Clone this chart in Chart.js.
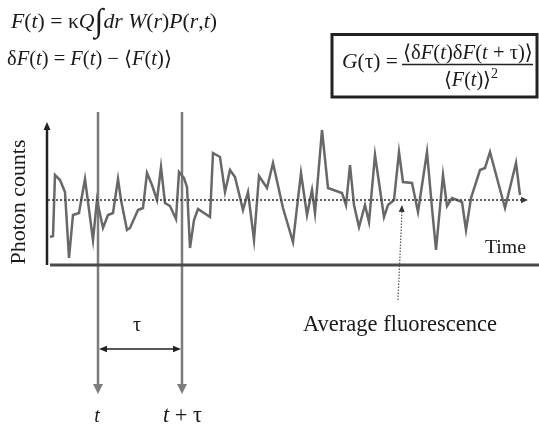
<!DOCTYPE html>
<html>
<head>
<meta charset="utf-8">
<script src="https://cdn.jsdelivr.net/npm/chart.js@4.4.1/dist/chart.umd.min.js"></script>
<style>
  html, body { margin: 0; padding: 0; background: #ffffff; }
  canvas { display: block; }
</style>
</head>
<body>
<canvas id="c" width="539" height="426"></canvas>
<script>
// ---- data (time in arbitrary units, counts in arbitrary units) ----
const timeUnits = [3,6,8,13,18,22,26,32,38,46,50,56,61,66,71,74,80,83,91,96,100,105,110,114,118,123,129,132,137,140,143,147,151,163,166,173,178,183,188,196,201,207,212,220,226,236,246,254,260,265,268,275,281,295,299,303,307,312,318,322,328,337,341,347,352,356,365,371,380,385,389,396,400,405,415,419,424,433,438,443,458,469,473];
const photonCounts = [28,29,90,85,73,7,50,52,86,25,65,37,50,52,86,65,35,37,55,57,92,80,65,98,62,59,46,93,87,78,17,45,56,48,112,108,73,95,88,55,73,25,89,77,102,57,23,92,50,75,52,135,77,72,60,100,60,38,60,43,110,48,60,65,113,83,82,53,113,57,15,90,59,67,63,35,67,95,97,113,57,102,70];
const meanCount = 65;            // average fluorescence level
const meanSpan = [1, 476, 481];  // start, line end, arrow tip
const tMark = 51;                // time t
const tauLag = 84;               // lag tau
const markerSpan = [153, -125, -129]; // top, line end, arrow tip (counts units)
const yAxisSpan = [0, 136, 143];      // bottom, line end, arrow tip
const xAxisSpan = [3, 492];
const tauArrowLevel = -84;
const annotFrom = [351, -35];
const annotTip = [355, 60];
const labels = { yTitle: 'Photon counts', xTitle: 'Time', avg: 'Average fluorescence', t: 't', tt: 't + τ', tau: 'τ' };

const seg = (x1, y1, x2, y2) => [{x: x1, y: y1}, {x: x2, y: y2}];
const trace = timeUnits.map((t, i) => ({x: t, y: photonCounts[i]}));

const base = { showLine: true, pointRadius: 0, pointHoverRadius: 0, tension: 0, clip: false, borderCapStyle: 'butt', fill: false };

const datasets = [
  Object.assign({}, base, { data: seg(xAxisSpan[0], 0, xAxisSpan[1], 0), borderColor: '#4a4a4a', borderWidth: 3 }),
  Object.assign({}, base, { data: seg(0, yAxisSpan[0], 0, yAxisSpan[1]), borderColor: '#222', borderWidth: 2.5 }),
  Object.assign({}, base, { data: seg(meanSpan[0], meanCount, meanSpan[1], meanCount), borderColor: '#3a3a3a', borderWidth: 1.6, borderDash: [2, 2] }),
  Object.assign({}, base, { data: trace, borderColor: '#686868', borderWidth: 2.5, borderJoinStyle: 'miter' }),
  Object.assign({}, base, { data: seg(tMark, markerSpan[0], tMark, markerSpan[1]), borderColor: '#7c7c7c', borderWidth: 2.5 }),
  Object.assign({}, base, { data: seg(tMark + tauLag, markerSpan[0], tMark + tauLag, markerSpan[1]), borderColor: '#7c7c7c', borderWidth: 2.5 }),
  Object.assign({}, base, { data: seg(tMark + 5, tauArrowLevel, tMark + tauLag - 5, tauArrowLevel), borderColor: '#222', borderWidth: 1.3 }),
  Object.assign({}, base, { data: seg(annotFrom[0], annotFrom[1], annotTip[0], annotTip[1] - 6), borderColor: '#555', borderWidth: 1.2, borderDash: [1.5, 1.5] })
];

const FAM = '"Liberation Serif", "DejaVu Serif", serif';
function fontFor(r, size) { return (r[1] ? 'italic ' : '') + (size * (r[2] || 1)).toFixed(2) + 'px ' + FAM; }
function runsWidth(ctx, runs, size) { let w = 0; runs.forEach(r => { ctx.font = fontFor(r, size); w += ctx.measureText(r[0]).width; }); return w; }
function drawRuns(ctx, runs, x, baseY, size, width) {
  if (width) size = size * width / runsWidth(ctx, runs, size);
  let cx = x;
  ctx.textAlign = 'left'; ctx.textBaseline = 'alphabetic';
  runs.forEach(r => { ctx.font = fontFor(r, size); ctx.fillText(r[0], cx, baseY + (r[3] || 0) * size); cx += ctx.measureText(r[0]).width; });
}
function fitText(ctx, txt, italic, width, size) {
  ctx.font = (italic ? 'italic ' : '') + size + 'px ' + FAM;
  const s = size * width / ctx.measureText(txt).width;
  ctx.font = (italic ? 'italic ' : '') + s.toFixed(2) + 'px ' + FAM;
}
function arrowHead(ctx, fx, fy, tx, ty, len, half, color) {
  const dx = tx - fx, dy = ty - fy, d = Math.hypot(dx, dy) || 1;
  const ux = dx / d, uy = dy / d, bx = tx - ux * len, by = ty - uy * len;
  ctx.beginPath(); ctx.moveTo(tx, ty);
  ctx.lineTo(bx - uy * half, by + ux * half); ctx.lineTo(bx + uy * half, by - ux * half);
  ctx.closePath(); ctx.fillStyle = color; ctx.fill();
}

const overlay = {
  id: 'overlay',
  afterDatasetsDraw(chart) {
    const ctx = chart.ctx, X = v => chart.scales.x.getPixelForValue(v), Y = v => chart.scales.y.getPixelForValue(v);
    ctx.save();
    // arrowheads
    arrowHead(ctx, X(0), Y(yAxisSpan[0]), X(0), Y(yAxisSpan[2]), 8, 3.5, '#222');
    arrowHead(ctx, X(meanSpan[0]), Y(meanCount), X(meanSpan[2]), Y(meanCount), 7, 3.2, '#3a3a3a');
    [tMark, tMark + tauLag].forEach(t => arrowHead(ctx, X(t), Y(markerSpan[0]), X(t), Y(markerSpan[2]), 10, 5, '#7c7c7c'));
    arrowHead(ctx, X(tMark + tauLag), Y(tauArrowLevel), X(tMark + 1), Y(tauArrowLevel), 8, 3.2, '#222');
    arrowHead(ctx, X(tMark), Y(tauArrowLevel), X(tMark + tauLag - 1), Y(tauArrowLevel), 8, 3.2, '#222');
    arrowHead(ctx, X(annotFrom[0]), Y(annotFrom[1]), X(annotTip[0]), Y(annotTip[1]), 7, 3, '#333');

    ctx.fillStyle = '#1a1a1a';
    // equations
    drawRuns(ctx, [['F',1],['('],['t',1],[')'],[' = κ'],['Q',1],['∫',1,1.5,0.16],['dr',1],[' '],['W',1],['('],['r',1],[')'],['P',1],['('],['r',1],[','],['t',1],[')']], 11, 28, 18, 206);
    drawRuns(ctx, [['δ'],['F',1],['('],['t',1],[')'],[' = '],['F',1],['('],['t',1],[')'],[' − ⟨'],['F',1],['('],['t',1],[')⟩']], 7, 65, 18, 165);
    // boxed G(tau)
    ctx.strokeStyle = '#222'; ctx.lineWidth = 3;
    ctx.strokeRect(332, 34.5, 205, 62.5);
    drawRuns(ctx, [['G',1],['(τ) =']], 342, 68, 18, 56);
    drawRuns(ctx, [['⟨δ'],['F',1],['('],['t',1],[')δ'],['F',1],['('],['t',1],[' + τ)⟩']], 403, 59, 18, 130);
    ctx.beginPath(); ctx.lineWidth = 1.3; ctx.moveTo(402, 64.5); ctx.lineTo(533, 64.5); ctx.stroke();
    drawRuns(ctx, [['⟨'],['F',1],['('],['t',1],[')⟩'],['2',0,0.7,-0.4]], 444, 86, 18, 54);

    // axis labels
    ctx.save(); ctx.translate(25, 202); ctx.rotate(-Math.PI / 2);
    fitText(ctx, labels.yTitle, false, 125, 20); ctx.textAlign = 'center'; ctx.fillText(labels.yTitle, 0, 0);
    ctx.restore();
    fitText(ctx, labels.xTitle, false, 41, 20); ctx.textAlign = 'left'; ctx.fillText(labels.xTitle, 485, 253);
    fitText(ctx, labels.avg, false, 194, 20); ctx.fillText(labels.avg, 303, 331);
    ctx.textAlign = 'center';
    ctx.font = '20px ' + FAM; ctx.fillText(labels.tau, 137, 331);
    ctx.font = 'italic 20px ' + FAM; ctx.fillText(labels.t, X(tMark) - 1, 422);
    drawRuns(ctx, [['t',1],[' + τ']], X(tMark + tauLag) - 19, 422, 20, 39);
    ctx.restore();
  }
};

new Chart(document.getElementById('c'), {
  type: 'scatter',
  data: { datasets },
  options: {
    responsive: false, animation: false, devicePixelRatio: 1,
    layout: { padding: 0 },
    plugins: { legend: { display: false }, tooltip: { enabled: false } },
    events: [],
    scales: {
      x: { type: 'linear', display: false, min: -47, max: 492 },
      y: { type: 'linear', display: false, min: -161, max: 265 }
    }
  },
  plugins: [overlay]
});
</script>
</body>
</html>
